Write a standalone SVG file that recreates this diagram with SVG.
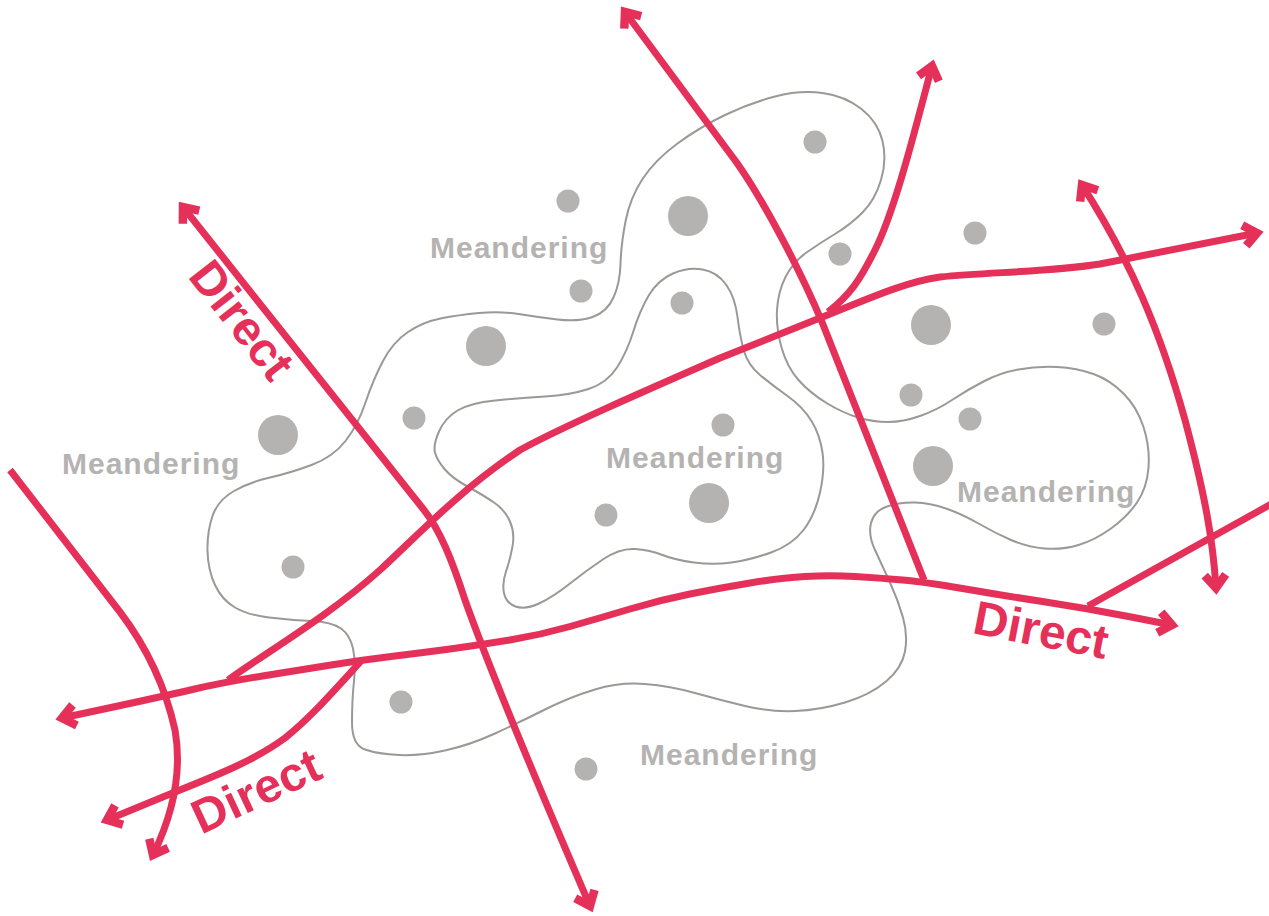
<svg xmlns="http://www.w3.org/2000/svg" width="1269" height="916" viewBox="0 0 1269 916">
<style>
.zone{fill:none;stroke:#9c9896;stroke-width:2}
.dot{fill:#b5b3b1}
.road{fill:none;stroke:#e5315a;stroke-width:7;stroke-linecap:butt;stroke-linejoin:round}
.mea{font-family:"Liberation Sans",Arial,sans-serif;font-weight:bold;font-size:30px;letter-spacing:1px;fill:#b5b3b1}
.dir{font-family:"Liberation Sans",Arial,sans-serif;font-weight:bold;font-size:48px;fill:#e5315a;text-anchor:middle}
</style>
<defs>
<marker id="ah" markerUnits="userSpaceOnUse" orient="auto-start-reverse" overflow="visible" markerWidth="1" markerHeight="1" refX="0" refY="0">
<path d="M-13,-10.5 L0,0 L-13,10.5" fill="none" stroke="#e5315a" stroke-width="8.5" stroke-linejoin="miter" stroke-miterlimit="10"/>
</marker>
</defs>
<rect width="1269" height="916" fill="#ffffff"/>
<g id="zones">
<path id="zone-outer" class="zone" d="M352,722.5 Q352,745 365,749.5 Q378,754 399,755 Q420,756 445,750.5 Q470,745 495,733.5 Q520,722 545,709.5 Q570,697 595,689.5 Q620,682 645,684 Q670,686 695,693 Q720,700 745,706 Q770,712 795,711 Q820,710 845,702.5 Q870,695 886,681.5 Q902,668 905,651.5 Q908,635 903,617.5 Q898,600 890,582.5 Q882,565 875,550 Q868,535 871,523 Q874,511 887,506.5 Q900,502 915,502.5 Q930,503 946,508.5 Q962,514 978.5,523.5 Q995,533 1011,540 Q1027,547 1044.5,548.5 Q1062,550 1078.5,545 Q1095,540 1111,528.5 Q1127,517 1137,502.5 Q1147,488 1148.5,467.5 Q1150,447 1143.5,427 Q1137,407 1123.5,393.5 Q1110,380 1093.5,374 Q1077,368 1057,367 Q1037,366 1018.5,369.5 Q1000,373 983.5,381.5 Q967,390 952,400 Q937,410 920,416 Q903,422 888,422 Q873,422 858,417.5 Q843,413 826.5,403 Q810,393 798.5,380 Q787,367 781.5,347.5 Q776,328 777,310 Q778,292 785.5,277 Q793,262 806.5,252.5 Q820,243 835,234 Q850,225 862.5,212.5 Q875,200 881,180 Q887,160 882.5,141 Q878,122 861.5,109 Q845,96 822.5,93 Q800,90 775,96.5 Q750,103 725,115 Q700,127 677.5,143.5 Q655,160 642.5,179 Q630,198 625.5,221.5 Q621,245 620.5,264 Q620,283 613.5,297.5 Q607,312 592.5,317 Q578,322 557.5,319.5 Q537,317 518.5,314 Q500,311 479,313 Q458,315 440.5,318.5 Q423,322 408,332 Q393,342 383,361 Q373,380 365.5,402.5 Q358,425 345.5,441 Q333,457 311.5,465 Q290,473 270,477.5 Q250,482 234,491 Q218,500 212.5,516 Q207,532 207.5,551 Q208,570 215,585 Q222,600 235,607.5 Q248,615 269,617.5 Q290,620 311,621 Q332,622 341,628.5 Q350,635 353,648.5 Q356,662 354,681 Q352,700 352,722.5 Z"/>
<path id="zone-center" class="zone" d="M435,452.5 Q433,445 439,431.5 Q445,418 457.5,410.5 Q470,403 495,400.5 Q520,398 545,396.5 Q570,395 588.5,389 Q607,383 617,367.5 Q627,352 633.5,331 Q640,310 649,295 Q658,280 673,273.5 Q688,267 702.5,269.5 Q717,272 726,284.5 Q735,297 737.5,317 Q740,337 744,351 Q748,365 760,375 Q772,385 787.5,396 Q803,407 811.5,421 Q820,435 822.5,452.5 Q825,470 820,492.5 Q815,515 803.5,530 Q792,545 771,552.5 Q750,560 731.5,562.5 Q713,565 694,562.5 Q675,560 662.5,555 Q650,550 635,549 Q620,548 603.5,559 Q587,570 570,583.5 Q553,597 539,603.5 Q525,610 515.5,606.5 Q506,603 504,593 Q502,583 506,571.5 Q510,560 512.5,546.5 Q515,533 510,521.5 Q505,510 494,502.5 Q483,495 467.5,486.5 Q452,478 444.5,469 Q437,460 435,452.5 Z"/>
</g>
<g id="dots">
<circle class="dot" cx="815" cy="142" r="11.5"/>
<circle class="dot" cx="568" cy="201" r="11.5"/>
<circle class="dot" cx="688" cy="216" r="20"/>
<circle class="dot" cx="840" cy="254" r="11.5"/>
<circle class="dot" cx="975" cy="233" r="11.5"/>
<circle class="dot" cx="581" cy="291" r="11.5"/>
<circle class="dot" cx="682" cy="303" r="11.5"/>
<circle class="dot" cx="486" cy="346" r="20"/>
<circle class="dot" cx="931" cy="325" r="20"/>
<circle class="dot" cx="1104" cy="324" r="11.5"/>
<circle class="dot" cx="414" cy="418" r="11.5"/>
<circle class="dot" cx="911" cy="395" r="11.5"/>
<circle class="dot" cx="970" cy="419" r="11.5"/>
<circle class="dot" cx="723" cy="425" r="11.5"/>
<circle class="dot" cx="278" cy="435" r="20"/>
<circle class="dot" cx="933" cy="466" r="20"/>
<circle class="dot" cx="709" cy="503" r="20"/>
<circle class="dot" cx="606" cy="515" r="11.5"/>
<circle class="dot" cx="293" cy="567" r="11.5"/>
<circle class="dot" cx="401" cy="702" r="11.5"/>
<circle class="dot" cx="586" cy="769" r="11.5"/>
</g>
<g id="connectors">
<path id="road-a" class="road" d="M183,207 L424,510 C440,530 452,560 465,600 C490,670 540,790 590,906" marker-start="url(#ah)" marker-end="url(#ah)"/>
<path id="road-b" class="road" d="M924,580 L822,322 C800,270 765,203 737,163 L625,12" marker-end="url(#ah)"/>
<path id="road-c" class="road" d="M828,312 C850,295 860,280 875,250 C895,210 915,130 932,66" marker-end="url(#ah)"/>
<path id="road-d" class="road" d="M228,680 C270,650 330,615 380,570 C420,533 460,490 520,450 C560,428 640,393 720,358 L820,318 C870,298 905,282 940,277 C990,272 1050,272 1100,264 L1257,233" marker-end="url(#ah)"/>
<path id="road-e" class="road" d="M62,718 L111,707.5 Q160,697 192.5,689.5 Q225,682 262.5,676 Q300,670 331,665 Q362,660 391,656.5 Q420,653 450,649 Q480,645 510,640 Q540,635 570,626.5 Q600,618 630,609 Q660,600 690,594 Q720,588 750,583 Q780,578 805,576.5 Q830,575 855,576.5 Q880,578 902.5,580 Q925,582 962.5,588.5 Q1000,595 1042.5,601.5 Q1085,608 1128.5,616.5 L1172,625" marker-start="url(#ah)" marker-end="url(#ah)"/>
<path id="road-f" class="road" d="M362,660 C330,695 310,718 285,738 C255,760 220,774 175,792 L107,820" marker-end="url(#ah)"/>
<path id="road-g" class="road" d="M10,470 L120,612 C145,645 165,685 175,730 C182,770 175,810 153,855" marker-end="url(#ah)"/>
<path id="road-i" class="road" d="M1082,185 C1130,260 1160,330 1185,420 C1205,495 1213,540 1216,588" marker-start="url(#ah)" marker-end="url(#ah)"/>
<path id="road-j" class="road" d="M1088,606 L1275,502"/>
</g>
<g id="labels">
<text id="mea-top" class="mea" x="430" y="258">Meandering</text>
<text id="mea-left" class="mea" x="62" y="474">Meandering</text>
<text id="mea-center" class="mea" x="606" y="468">Meandering</text>
<text id="mea-right" class="mea" x="957" y="502">Meandering</text>
<text id="mea-bottom" class="mea" x="640" y="765">Meandering</text>
<text id="dir-tl" class="dir" transform="translate(229,330) rotate(52)">Direct</text>
<text id="dir-br" class="dir" transform="translate(1038,646) rotate(11)">Direct</text>
<text id="dir-bl" class="dir" transform="translate(263,806) rotate(-25)">Direct</text>
</g>
</svg>
